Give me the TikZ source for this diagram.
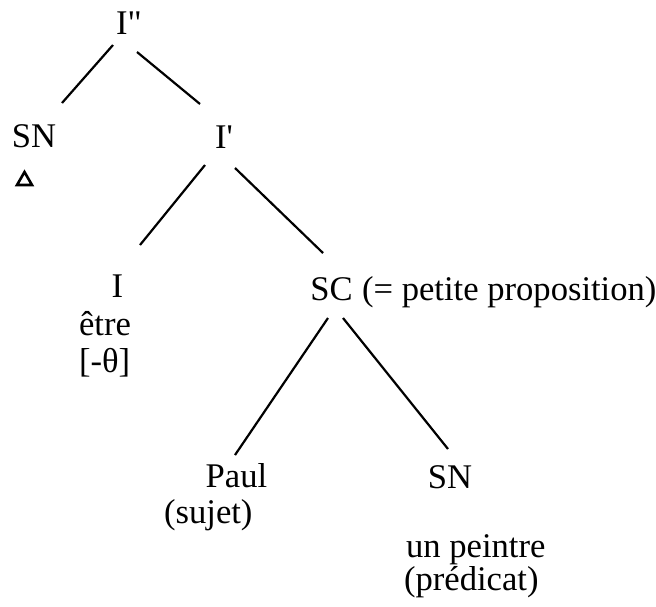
\documentclass[tikz,border=0pt]{standalone}
\usepackage{fontspec}
\setmainfont{Liberation Serif}
\usetikzlibrary{calc}

\begin{document}
\begin{tikzpicture}[x=0.5pt, y=-0.5pt, line width=1.1pt,
        cat/.style={font=\fontsize{17.3}{20}\selectfont, inner sep=0pt, anchor=base},
        gloss/.style={cat, anchor=base west}]
    \useasboundingbox (0,0) rectangle (656,606);
    % categories
    \node[cat] (ipp) at (129,34) {I\textquotedbl};
    \node[cat] (snl) at (34,147) {SN};
    \node[cat] (ip) at (224,148) {I\textquotesingle};
    \node[cat] (i) at (117.5,297) {I};
    \node[cat] (sc) at (331.5,300) {SC};
    \node[gloss] (scnote) at (361,300) {(= petite proposition)};
    \node[cat] (paul) at (236.5,487) {Paul};
    \node[cat] (snr) at (450,488) {SN};
    % glosses
    \node[gloss] (etre) at (78,335) {\^etre};
    \node[gloss] (theta) at (78,372) {[-θ]};
    \node[gloss] (sujet) at (163,523) {(sujet)};
    \node[gloss] (peintre) at (405,557) {un peintre};
    \node[gloss] (predicat) at (403,590) {(pr\'edicat)};
    \coordinate (delta) at (24.5,172);
    \draw[line width=1.3pt, line join=miter] (delta) -- ++(7.5,13) -- ++(-15,0) -- cycle;
    % branches
    \draw ($(ipp.base)+(-16,11)$) -- ($(snl.base)+(28,-44)$);
    \draw ($(ipp.base)+(8,18)$) -- ($(ip.base)+(-24,-44)$);
    \draw ($(ip.base)+(-19,17)$) -- ($(i.base)+(22.5,-52)$);
    \draw ($(ip.base)+(11,20)$) -- ($(sc.base)+(-8.5,-47)$);
    \draw ($(sc.base)+(-3.5,18)$) -- ($(paul.base)+(-1.5,-32)$);
    \draw ($(sc.base)+(11.5,18)$) -- ($(snr.base)+(-2,-39)$);
\end{tikzpicture}
\end{document}
